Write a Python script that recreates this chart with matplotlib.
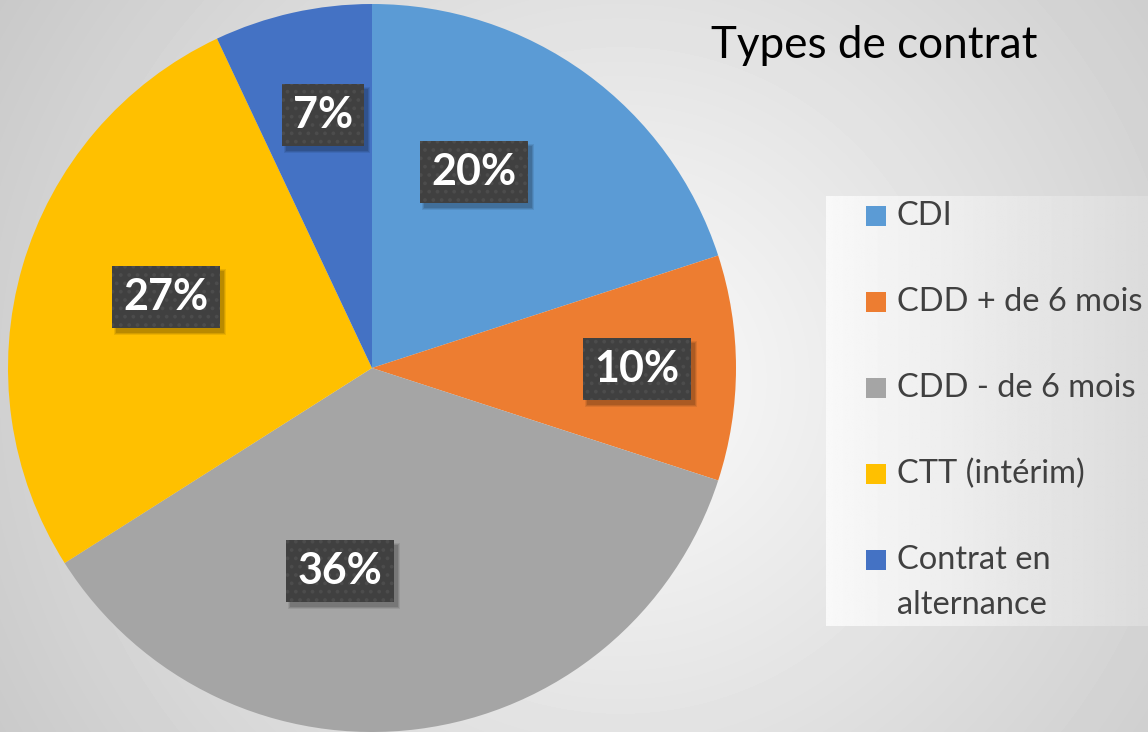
import numpy as np
import matplotlib
matplotlib.use("Agg")
import matplotlib.pyplot as plt
from matplotlib.patches import Rectangle

# Data
categories = ["CDI", "CDD + de 6 mois", "CDD - de 6 mois", "CTT (intérim)", "Contrat en\nalternance"]
shares = [20, 10, 36, 27, 7]
colors = ["#5b9bd5", "#ed7d31", "#a5a5a5", "#ffc000", "#4472c4"]
title = "Types de contrat"

# label box centres (pixels, y down)
label_xy = [(474, 172), (637, 369), (340, 571), (166, 297), (323, 115)]

W, H = 1148, 732
fig = plt.figure(figsize=(W / 100, H / 100), dpi=100)
ax = fig.add_axes([0, 0, 1, 1])

# radial background
yy, xx = np.mgrid[0:H, 0:W]
d = np.hypot(xx - 620, yy - 380) / 700.0
bg = 0.985 - 0.19 * np.clip(d, 0, 1.2)
ax.imshow(bg, cmap="gray", vmin=0, vmax=1, extent=(0, W, 0, H), origin="upper", zorder=0)

cx, cy, r = 372, H - 368, 364
wedges, _ = ax.pie(shares, colors=colors, startangle=90, counterclock=False,
                   radius=r, center=(cx, cy), wedgeprops=dict(linewidth=0))
for w in wedges:
    w.set_zorder(2)

ax.set_xlim(0, W)
ax.set_ylim(0, H)
ax.set_aspect("auto")
ax.axis("off")

# labels: dotted dark box, shadow added after a draw
plt.rcParams["hatch.linewidth"] = 1.5
labels = []
for (x, y), v in zip(label_xy, shares):
    t = ax.text(x, H - y, f"{v}%", ha="center", va="center", color="white",
                fontsize=31, fontweight="bold", family="Lato", zorder=5,
                bbox=dict(boxstyle="square,pad=0.26", facecolor="#404040",
                          edgecolor="#4c4c4c", linewidth=0, hatch=".."))
    labels.append(t)

# legend box
box = np.tile(np.linspace(0.975, 0.86, 200), (60, 1))
ax.imshow(box, cmap="gray", vmin=0, vmax=1, extent=(826, W, H - 626, H - 196),
          aspect="auto", zorder=1)

# legend entries
row_y0, row_step, line_step = 216, 86, 45
for i, (name, col) in enumerate(zip(categories, colors)):
    y = row_y0 + i * row_step
    ax.add_patch(Rectangle((866, H - y - 10), 20, 20, facecolor=col, edgecolor="none", zorder=3))
    for j, line in enumerate(name.split("\n")):
        ax.text(897, H - y - j * line_step, line, ha="left", va="center",
                fontsize=23.5, family="Lato", color="#404040", zorder=3)

ax.text(711, H - 45, title, ha="left", va="center", fontsize=31.7, family="Lato", color="black")

# soft shadows behind label boxes
fig.canvas.draw()
inv = ax.transData.inverted()
for t in labels:
    bb = t.get_bbox_patch().get_window_extent().transformed(inv)
    for k, a in enumerate([0.08, 0.1, 0.12]):
        g = 2 - k
        ax.add_patch(Rectangle((bb.x0 + 4 - g, bb.y0 - 5 - g), bb.width + 2 * g, bb.height + 2 * g,
                               facecolor="black", alpha=a, linewidth=0, zorder=4))

fig.savefig("out.png", dpi=100)
